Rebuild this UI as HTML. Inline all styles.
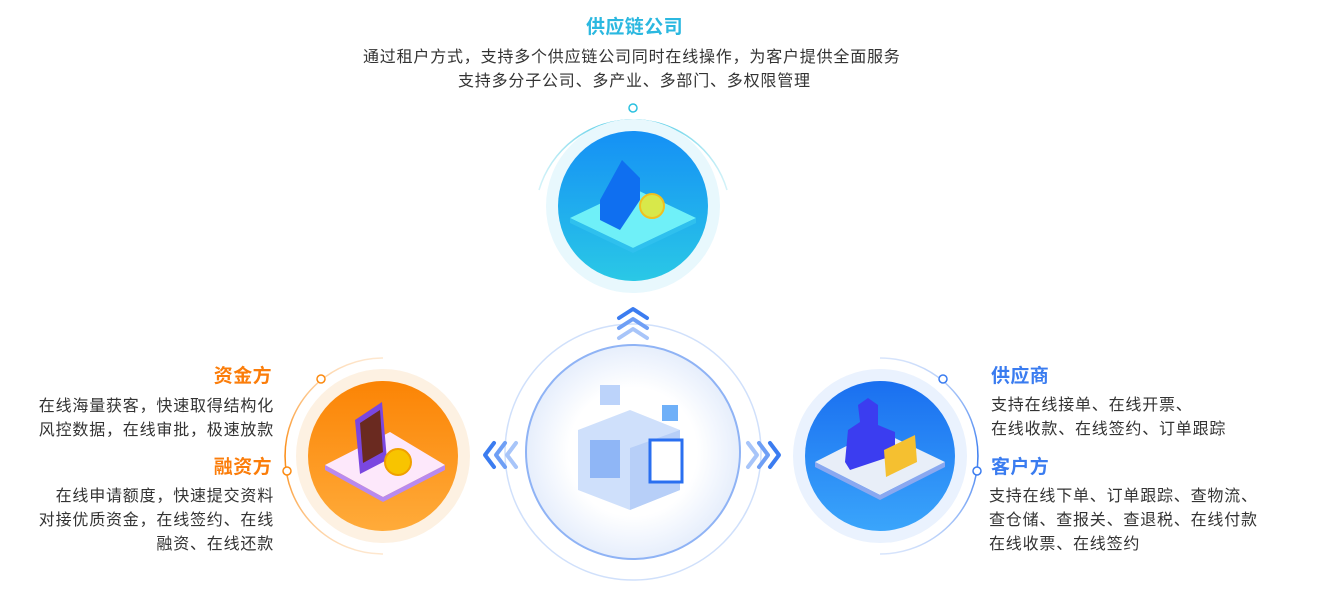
<!DOCTYPE html>
<html><head><meta charset="utf-8"><style>
body{margin:0;width:1320px;height:601px;background:#fff;overflow:hidden;position:relative;font-family:"Liberation Sans","Noto Sans CJK SC",sans-serif;}
.t{position:absolute;white-space:nowrap;font-size:16px;color:#333;line-height:24px;letter-spacing:0.8px;}
.h{position:absolute;white-space:nowrap;font-size:19px;font-weight:bold;line-height:22px;letter-spacing:0.4px;}
</style></head><body>
<svg width="1320" height="601" style="position:absolute;left:0;top:0">
<defs>
<linearGradient id="gt" x1="0" y1="0" x2="0" y2="1"><stop offset="0" stop-color="#1590f5"/><stop offset="1" stop-color="#2ac8e6"/></linearGradient>
<linearGradient id="go" x1="0" y1="0" x2="0" y2="1"><stop offset="0" stop-color="#fb8405"/><stop offset="1" stop-color="#ffab3a"/></linearGradient>
<linearGradient id="gb" x1="0" y1="0" x2="0" y2="1"><stop offset="0" stop-color="#1a6ff0"/><stop offset="1" stop-color="#3aa5fb"/></linearGradient>
<radialGradient id="gc"><stop offset="0.6" stop-color="#fff"/><stop offset="1" stop-color="#e6eefc"/></radialGradient>
<linearGradient id="arcT" x1="0" y1="0" x2="1" y2="0"><stop offset="0" stop-color="#2bc1e0" stop-opacity="0.2"/><stop offset="0.5" stop-color="#2bc1e0"/><stop offset="1" stop-color="#2bc1e0" stop-opacity="0.2"/></linearGradient>
<linearGradient id="arcL" x1="0" y1="0" x2="0" y2="1"><stop offset="0" stop-color="#fb8a10" stop-opacity="0.2"/><stop offset="0.5" stop-color="#fb8a10"/><stop offset="1" stop-color="#fb8a10" stop-opacity="0.2"/></linearGradient>
<linearGradient id="arcR" x1="0" y1="0" x2="0" y2="1"><stop offset="0" stop-color="#3a7cf0" stop-opacity="0.2"/><stop offset="0.5" stop-color="#3a7cf0"/><stop offset="1" stop-color="#3a7cf0" stop-opacity="0.2"/></linearGradient>
</defs>
<path d="M539,190 A98,98 0 0 1 727,190" fill="none" stroke="url(#arcT)" stroke-width="1.5"/>
<circle cx="633" cy="108" r="4" fill="#fff" stroke="#2bc1e0" stroke-width="1.5"/>
<circle cx="633" cy="206" r="87" fill="#e8f8fd"/>
<circle cx="633" cy="206" r="75" fill="url(#gt)"/>
<path d="M570,218 L633,188 L696,218 L633,248 Z" fill="#6ff0f8"/>
<path d="M570,218 L633,248 L696,218 L696,223 L633,253 L570,223Z" fill="#2fc0ee"/>
<path d="M600,200 L622,160 L640,178 L640,200 L620,230 L600,220Z" fill="#0f6ff0"/>
<circle cx="652" cy="206" r="12" fill="#d8e84a" stroke="#f0c020" stroke-width="2"/>
<circle cx="633" cy="452" r="128" fill="none" stroke="#d0e0fb" stroke-width="1.5"/>
<circle cx="633" cy="452" r="107" fill="url(#gc)" stroke="#8fb3f5" stroke-width="2"/>
<path d="M578,430 L630,410 L680,430 L680,490 L630,510 L578,490Z" fill="#cfe0fb"/>
<path d="M630,448 L680,430 L680,490 L630,510Z" fill="#b7cff8"/>
<rect x="650" y="440" width="32" height="42" fill="#fff" stroke="#2a6ff0" stroke-width="3"/>
<rect x="590" y="440" width="30" height="38" fill="#8fb6f6"/>
<rect x="662" y="405" width="16" height="16" fill="#6fb0f8"/>
<rect x="600" y="385" width="20" height="20" fill="#bcd3fa"/>
<g fill="none" stroke-linecap="round" stroke-linejoin="round" stroke-width="4">
<path d="M619,318 L633,309 L647,318" stroke="#3b7cf0"/>
<path d="M619,328 L633,319 L647,328" stroke="#6f9ff5"/>
<path d="M619,338 L633,329 L647,338" stroke="#a8c5f9"/>
<path d="M494,443 L485,455 L494,467" stroke="#3b7cf0"/>
<path d="M505,443 L496,455 L505,467" stroke="#6f9ff5"/>
<path d="M516,443 L507,455 L516,467" stroke="#a8c5f9"/>
<path d="M748,443 L757,455 L748,467" stroke="#a8c5f9"/>
<path d="M759,443 L768,455 L759,467" stroke="#6f9ff5"/>
<path d="M770,443 L779,455 L770,467" stroke="#3b7cf0"/>
</g>
<path d="M383,358 A98,98 0 0 0 383,554" fill="none" stroke="url(#arcL)" stroke-width="1.5"/>
<circle cx="321" cy="379" r="4" fill="#fff" stroke="#fb8a10" stroke-width="1.5"/>
<circle cx="287" cy="471" r="4" fill="#fff" stroke="#fb8a10" stroke-width="1.5"/>
<circle cx="383" cy="456" r="87" fill="#fdf1e2"/>
<circle cx="383" cy="456" r="75" fill="url(#go)"/>
<path d="M325,465 L390,432 L445,465 L383,497Z" fill="#fde8fb"/>
<path d="M325,465 L383,497 L445,465 L445,470 L383,502 L325,470Z" fill="#b88af0"/>
<path d="M355,420 L382,402 L387,460 L360,474Z" fill="#7a47e0"/>
<path d="M360,423 L380,410 L383,452 L363,463Z" fill="#6a2a20"/>
<circle cx="398" cy="462" r="13" fill="#f8c400" stroke="#f0a000" stroke-width="2"/>
<path d="M880,358 A98,98 0 0 1 880,554" fill="none" stroke="url(#arcR)" stroke-width="1.5"/>
<circle cx="943" cy="379" r="4" fill="#fff" stroke="#3a7cf0" stroke-width="1.5"/>
<circle cx="977" cy="471" r="4" fill="#fff" stroke="#3a7cf0" stroke-width="1.5"/>
<circle cx="880" cy="456" r="87" fill="#eaf2fe"/>
<circle cx="880" cy="456" r="75" fill="url(#gb)"/>
<path d="M815,462 L878,430 L945,462 L880,495Z" fill="#e8eef8"/>
<path d="M815,462 L880,495 L945,462 L945,467 L880,500 L815,467Z" fill="#8aa8f0"/>
<path d="M845,462 L848,430 L860,422 L858,405 L868,398 L878,405 L878,425 L895,432 L895,455 L850,470Z" fill="#3b3df0"/>
<path d="M884,450 L915,435 L917,462 L886,477Z" fill="#f5c030"/>
</svg>
<div class="h" style="left:586px;top:17px;color:#2bb8e0">供应链公司</div>
<div class="t" style="left:363px;top:46px">通过租户方式，支持多个供应链公司同时在线操作，为客户提供全面服务</div>
<div class="t" style="left:458px;top:70px">支持多分子公司、多产业、多部门、多权限管理</div>
<div class="h" style="right:1048px;top:366px;color:#fb7d0a">资金方</div>
<div class="t" style="right:1046px;top:395px;text-align:right">在线海量获客，快速取得结构化<br>风控数据，在线审批，极速放款</div>
<div class="h" style="right:1048px;top:457px;color:#fb7d0a">融资方</div>
<div class="t" style="right:1046px;top:485px;text-align:right">在线申请额度，快速提交资料<br>对接优质资金，在线签约、在线<br>融资、在线还款</div>
<div class="h" style="left:991px;top:366px;color:#3a7cf0">供应商</div>
<div class="t" style="left:991px;top:394px">支持在线接单、在线开票、<br>在线收款、在线签约、订单跟踪</div>
<div class="h" style="left:991px;top:457px;color:#3a7cf0">客户方</div>
<div class="t" style="left:989px;top:485px">支持在线下单、订单跟踪、查物流、<br>查仓储、查报关、查退税、在线付款<br>在线收票、在线签约</div>
</body></html>
